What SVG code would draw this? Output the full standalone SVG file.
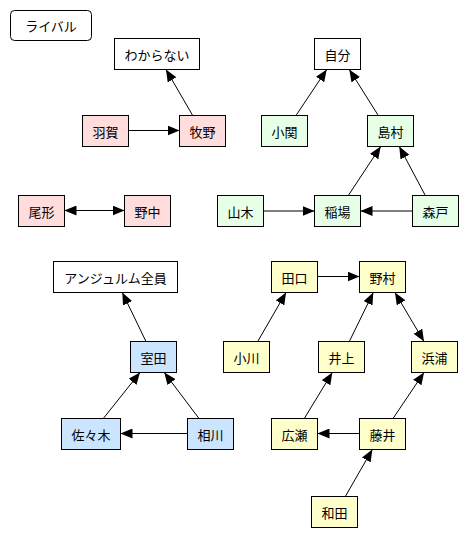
<svg xmlns="http://www.w3.org/2000/svg" width="468" height="537" viewBox="0 0 468 537">
<style>
.n rect{stroke:#000;stroke-width:1}
.w{fill:#fff}.p{fill:#ffdddd}.g{fill:#e6ffe6}.b{fill:#cce5ff}.y{fill:#ffffcc}
text{font-family:"Noto Sans CJK JP","Liberation Sans",sans-serif;font-size:13px;fill:#000;text-anchor:middle;dominant-baseline:central}
#edges line{stroke:#000;stroke-width:1;marker-end:url(#ah)}
#edges line.bi{marker-start:url(#ah)}
</style>
<defs>
<marker id="ah" markerUnits="userSpaceOnUse" markerWidth="12" markerHeight="10" refX="12" refY="5" orient="auto-start-reverse" viewBox="0 0 12 10">
<path d="M0,0 L12,5 L0,10 z" fill="#000"/>
</marker>
</defs>
<rect width="468" height="537" fill="#fff"/>
<g id="legend" class="n"><rect x="10.5" y="10.5" width="81" height="30" rx="4" class="w"/><text x="51" y="25.5">ライバル</text></g>
<g id="wakaranai" class="n"><rect x="114.5" y="38.5" width="85" height="31" class="w"/><text x="157" y="54">わからない</text></g>
<g id="haga" class="n"><rect x="82.5" y="115.5" width="46" height="31" class="p"/><text x="105.5" y="131">羽賀</text></g>
<g id="makino" class="n"><rect x="179.5" y="115.5" width="46" height="31" class="p"/><text x="202.5" y="131">牧野</text></g>
<g id="ogata" class="n"><rect x="18.5" y="195.5" width="46" height="31" class="p"/><text x="41.5" y="211">尾形</text></g>
<g id="nonaka" class="n"><rect x="124.5" y="195.5" width="46" height="31" class="p"/><text x="147.5" y="211">野中</text></g>
<g id="jibun" class="n"><rect x="314.5" y="38.5" width="46" height="31" class="w"/><text x="337.5" y="54">自分</text></g>
<g id="koseki" class="n"><rect x="261.5" y="115.5" width="46" height="31" class="g"/><text x="284.5" y="131">小関</text></g>
<g id="shimamura" class="n"><rect x="367.5" y="115.5" width="46" height="31" class="g"/><text x="390.5" y="131">島村</text></g>
<g id="yamaki" class="n"><rect x="217.5" y="195.5" width="46" height="31" class="g"/><text x="240.5" y="211">山木</text></g>
<g id="inaba" class="n"><rect x="314.5" y="195.5" width="46" height="31" class="g"/><text x="337.5" y="211">稲場</text></g>
<g id="morito" class="n"><rect x="412.5" y="195.5" width="46" height="31" class="g"/><text x="435.5" y="211">森戸</text></g>
<g id="angerme" class="n"><rect x="53.5" y="261.5" width="124" height="31" class="w"/><text x="115.5" y="277">アンジュルム全員</text></g>
<g id="murota" class="n"><rect x="130.5" y="341.5" width="46" height="31" class="b"/><text x="153.5" y="357">室田</text></g>
<g id="sasaki" class="n"><rect x="61.5" y="418.5" width="59" height="31" class="b"/><text x="91" y="434">佐々木</text></g>
<g id="aikawa" class="n"><rect x="187.5" y="418.5" width="46" height="31" class="b"/><text x="210.5" y="434">相川</text></g>
<g id="taguchi" class="n"><rect x="271.5" y="261.5" width="46" height="31" class="y"/><text x="294.5" y="277">田口</text></g>
<g id="nomura" class="n"><rect x="359.5" y="261.5" width="46" height="31" class="y"/><text x="382.5" y="277">野村</text></g>
<g id="ogawa" class="n"><rect x="223.5" y="341.5" width="46" height="31" class="y"/><text x="246.5" y="357">小川</text></g>
<g id="inoue" class="n"><rect x="318.5" y="341.5" width="46" height="31" class="y"/><text x="341.5" y="357">井上</text></g>
<g id="hamaura" class="n"><rect x="411.5" y="341.5" width="46" height="31" class="y"/><text x="434.5" y="357">浜浦</text></g>
<g id="hirose" class="n"><rect x="271.5" y="418.5" width="46" height="31" class="y"/><text x="294.5" y="434">広瀬</text></g>
<g id="fujii" class="n"><rect x="359.5" y="418.5" width="46" height="31" class="y"/><text x="382.5" y="434">藤井</text></g>
<g id="wada" class="n"><rect x="311.5" y="496.5" width="46" height="31" class="y"/><text x="334.5" y="512">和田</text></g>
<g id="edges">
<line x1="192.7" y1="115.5" x2="166" y2="69.5"/>
<line x1="128.5" y1="130.5" x2="179.5" y2="130.5"/>
<line class="bi" x1="64.5" y1="210.5" x2="124.5" y2="210.5"/>
<line x1="296" y1="115.5" x2="326.7" y2="69.5"/>
<line x1="378.3" y1="115.5" x2="349.3" y2="69.5"/>
<line x1="348.3" y1="195.5" x2="380.7" y2="146.5"/>
<line x1="425.3" y1="195.5" x2="399.3" y2="146.5"/>
<line x1="263.5" y1="211" x2="314.5" y2="211"/>
<line x1="412.5" y1="211" x2="360.5" y2="211"/>
<line x1="146" y1="341.5" x2="122.3" y2="292.5"/>
<line x1="103.3" y1="418.5" x2="140" y2="372.5"/>
<line x1="199" y1="418.5" x2="164.3" y2="372.5"/>
<line x1="187.5" y1="433.5" x2="120.5" y2="433.5"/>
<line x1="317.5" y1="276.5" x2="359.5" y2="276.5"/>
<line x1="257.7" y1="341.5" x2="286" y2="292.5"/>
<line x1="349.3" y1="341.5" x2="373.3" y2="292.5"/>
<line class="bi" x1="395" y1="292.5" x2="424" y2="341.5"/>
<line x1="304.3" y1="418.5" x2="332.3" y2="372.5"/>
<line x1="393" y1="418.5" x2="424" y2="372.5"/>
<line x1="359.5" y1="433.5" x2="317.5" y2="433.5"/>
<line x1="345.3" y1="496.5" x2="372.3" y2="449.5"/>
</g>
</svg>
